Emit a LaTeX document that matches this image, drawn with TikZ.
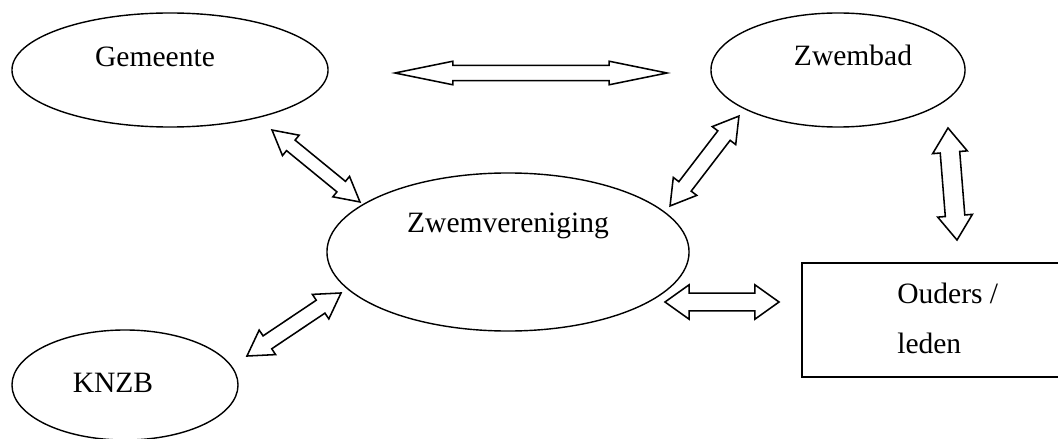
\documentclass[tikz,border=0pt]{standalone}
\usepackage{fontspec}
\setmainfont{Liberation Serif}
\usetikzlibrary{shapes.geometric,shapes.arrows,positioning}

\tikzset{
  oval/.style  = {draw, ellipse, line width=1pt, inner sep=0pt},
  box/.style   = {draw, rectangle, line width=1pt, inner sep=0pt},
  txt/.style   = {font=\fontsize{21}{25}\selectfont, inner sep=0pt, anchor=base},
  dblarrow/.style = {draw, double arrow, sloped, line width=1.1pt,
                     inner xsep=0pt, minimum width=0pt, double arrow head indent=0pt},
}

\begin{document}
\begin{tikzpicture}[x=0.025cm, y=-0.025cm]
\useasboundingbox (0,0) rectangle (1058,439);

\node[oval, minimum width=7.9cm,  minimum height=2.85cm] (gem) at (170,70)  {};
\node[oval, minimum width=6.35cm, minimum height=2.85cm] (zwb) at (838,70)  {};
\node[oval, minimum width=9.05cm, minimum height=3.95cm] (zwv) at (508,252) {};
\node[oval, minimum width=5.65cm, minimum height=2.75cm] (knz) at (125,385) {};
\node[box,  minimum width=6.7cm,  minimum height=2.85cm] (oud) at (936,320) {};

\node[txt] (gemtxt) at (155,67)  {Gemeente};
\node[txt] (zwbtxt) at (853,66)  {Zwembad};
\node[txt] (zwvtxt) at (508,232) {Zwemvereniging};
\node[txt] (knztxt) at (113,392) {KNZB};
\node[txt, anchor=base west] (oudtxt) at (897,303) {Ouders /};
\node[txt, anchor=base west] (ledtxt) at (897,353) {leden};

% ends of the block arrows
\coordinate (gz1) at (395,73);  \coordinate (gz2) at (667,73);
\coordinate (gv1) at (272,130); \coordinate (gv2) at (360,202);
\coordinate (bv1) at (739,116); \coordinate (bv2) at (670,206);
\coordinate (bo1) at (948,128); \coordinate (bo2) at (957,240);
\coordinate (vo1) at (665,302); \coordinate (vo2) at (779,302);
\coordinate (kv1) at (341,293); \coordinate (kv2) at (247,356);

\path (gz1) -- node[dblarrow, minimum height=6.8cm, inner ysep=0.17cm,
                    double arrow head extend=0.105cm, double arrow tip angle=23] (agz) {} (gz2);
\path (gv1) -- node[dblarrow, minimum height=2.84cm, inner ysep=0.15cm,
                    double arrow head extend=0.16cm, double arrow tip angle=57] (agv) {} (gv2);
\path (bv1) -- node[dblarrow, minimum height=2.83cm, inner ysep=0.175cm,
                    double arrow head extend=0.175cm, double arrow tip angle=62] (abv) {} (bv2);
\path (bo1) -- node[dblarrow, minimum height=2.81cm, inner ysep=0.225cm,
                    double arrow head extend=0.19cm, double arrow tip angle=71] (abo) {} (bo2);
\path (vo1) -- node[dblarrow, minimum height=2.85cm, inner ysep=0.2cm,
                    double arrow head extend=0.21cm, double arrow tip angle=71] (avo) {} (vo2);
\path (kv1) -- node[dblarrow, minimum height=2.83cm, inner ysep=0.175cm,
                    double arrow head extend=0.175cm, double arrow tip angle=62] (akv) {} (kv2);
\end{tikzpicture}
\end{document}
